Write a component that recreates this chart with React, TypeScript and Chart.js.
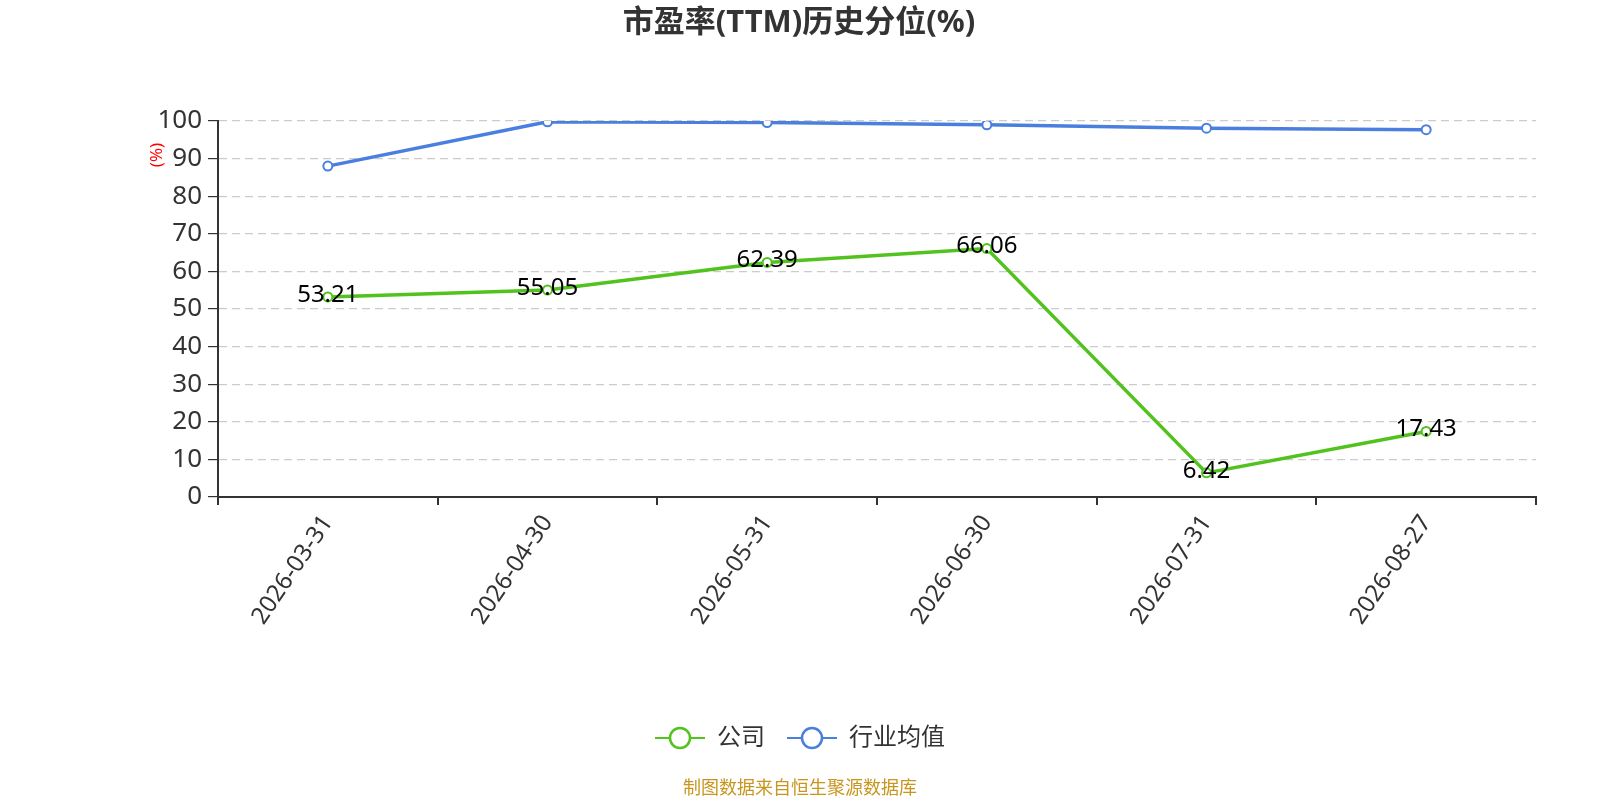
import {useEffect, useRef} from 'react'
import {Chart, registerables} from 'chart.js'

Chart.register(...registerables)

const dates = ['2026-03-31', '2026-04-30', '2026-05-31', '2026-06-30', '2026-07-31', '2026-08-27']
const company = [53.21, 55.05, 62.39, 66.06, 6.42, 17.43]
const industry = [88.0, 99.8, 99.6, 99.0, 98.1, 97.7]
const seriesNames = ['公司', '行业均值']

const GREEN = '#52c21e'
const BLUE = '#4a7fe0'
const FONT = '"Noto Sans", "Noto Sans CJK SC", sans-serif'

// title, y-axis unit, value labels, legend and source note
const decorPlugin = {
  id: 'decor',
  afterDraw(chart) {
    const ctx = chart.ctx
    ctx.save()

    ctx.fillStyle = '#333'
    ctx.font = `bold 31px ${FONT}`
    ctx.textAlign = 'center'
    ctx.textBaseline = 'middle'
    ctx.fillText('市盈率(TTM)历史分位(%)', 799, 23)

    // unit label
    ctx.save()
    ctx.translate(157, 155)
    ctx.rotate(-Math.PI / 2)
    ctx.fillStyle = 'red'
    ctx.font = `17px ${FONT}`
    ctx.fillText('(%)', 0, 0)
    ctx.restore()

    // value labels on company series
    const meta = chart.getDatasetMeta(0)
    ctx.fillStyle = '#000'
    ctx.font = `24px ${FONT}`
    meta.data.forEach((pt, i) => {
      ctx.fillText(company[i].toFixed(2), pt.x, pt.y - 2)
    })

    // legend
    ctx.font = `24px ${FONT}`
    ctx.textAlign = 'left'
    const colors = [GREEN, BLUE]
    const iconW = 50
    const gap = 12
    const itemGap = 22
    const widths = seriesNames.map((n) => iconW + gap + ctx.measureText(n).width)
    const total = widths.reduce((a, b) => a + b, 0) + itemGap
    let x = 800 - total / 2
    const ly = 738
    seriesNames.forEach((name, i) => {
      ctx.strokeStyle = colors[i]
      ctx.lineWidth = 2
      ctx.beginPath()
      ctx.moveTo(x, ly)
      ctx.lineTo(x + iconW, ly)
      ctx.stroke()
      ctx.beginPath()
      ctx.arc(x + iconW / 2, ly, 10, 0, Math.PI * 2)
      ctx.fillStyle = '#fff'
      ctx.fill()
      ctx.lineWidth = 2.5
      ctx.stroke()
      ctx.fillStyle = '#333'
      ctx.fillText(name, x + iconW + gap, ly)
      x += widths[i] + itemGap
    })

    // source note
    ctx.textAlign = 'center'
    ctx.fillStyle = '#c8961e'
    ctx.font = `18px ${FONT}`
    ctx.fillText('制图数据来自恒生聚源数据库', 800, 789)

    ctx.restore()
  },
}

function PeChart() {
  const chartRef = useRef(null)

  useEffect(() => {
    const myChart = new Chart(chartRef.current, {
      type: 'line',
      data: {
        labels: dates,
        datasets: [
          {
            label: seriesNames[0],
            data: company,
            borderColor: GREEN,
            backgroundColor: '#fff',
            borderWidth: 3.5,
            pointRadius: 4.5,
            pointBorderWidth: 2,
            pointBackgroundColor: '#fff',
            pointBorderColor: GREEN,
            tension: 0,
          },
          {
            label: seriesNames[1],
            data: industry,
            borderColor: BLUE,
            backgroundColor: '#fff',
            borderWidth: 3.5,
            pointRadius: 4.5,
            pointBorderWidth: 2,
            pointBackgroundColor: '#fff',
            pointBorderColor: BLUE,
            tension: 0,
          },
        ],
      },
      options: {
        animation: false,
        responsive: true,
        maintainAspectRatio: false,
        layout: {padding: {top: 121, right: 64, bottom: 143, left: 0}},
        plugins: {
          legend: {display: false},
          title: {display: false},
          tooltip: {enabled: false},
        },
        scales: {
          x: {
            type: 'category',
            offset: true,
            afterFit: (scale) => {
              scale.height = 160
            },
            grid: {
              offset: true,
              drawOnChartArea: false,
              color: '#333',
              tickLength: 8,
              lineWidth: 2,
            },
            border: {color: '#333', width: 2},
            ticks: {
              minRotation: 56,
              maxRotation: 56,
              padding: 5,
              color: '#333',
              font: {size: 24, family: FONT},
            },
          },
          y: {
            min: 0,
            max: 100,
            afterFit: (scale) => {
              scale.width = 218
            },
            ticks: {
              stepSize: 10,
              padding: 6,
              color: '#333',
              font: {size: 26, family: FONT},
            },
            grid: {
              color: '#ccc',
              tickColor: '#333',
              tickLength: 10,
              lineWidth: 1.2,
              tickBorderDash: [],
            },
            border: {color: '#333', width: 2, dash: [8, 5]},
          },
        },
      },
      plugins: [decorPlugin],
    })

    return () => {
      myChart.destroy()
    }
  }, [])

  return (
    <div style={{position: 'absolute', left: 0, top: 0, width: 1600, height: 800, background: '#fff'}}>
      <canvas ref={chartRef} />
    </div>
  )
}

export default function App() {
  return <PeChart />
}
